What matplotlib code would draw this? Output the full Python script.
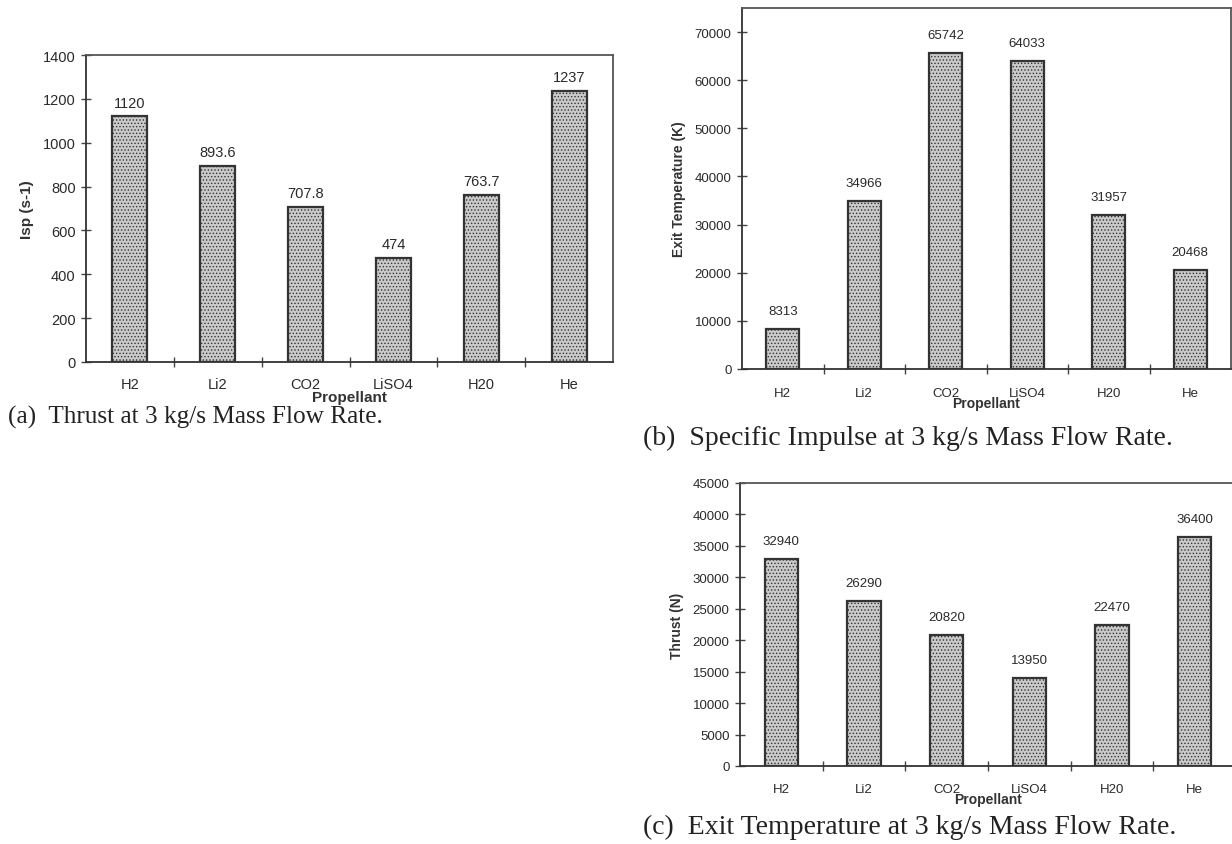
import matplotlib
matplotlib.use('Agg')
import matplotlib.pyplot as plt

plt.rcParams['font.family'] = ['Liberation Sans', 'DejaVu Sans']
plt.rcParams['hatch.color'] = '#8a8a8a'
plt.rcParams['hatch.linewidth'] = 0.6

propellants = ['H2', 'Li2', 'CO2', 'LiSO4', 'H20', 'He']
isp = [1120, 893.6, 707.8, 474, 763.7, 1237]
isp_labels = ['1120', '893.6', '707.8', '474', '763.7', '1237']
exit_temp = [8313, 34966, 65742, 64033, 31957, 20468]
thrust = [32940, 26290, 20820, 13950, 22470, 36400]

W, H = 1232, 845
fig = plt.figure(figsize=(W / 100, H / 100), dpi=100)


def px_axes(left, top, right, bottom):
    return fig.add_axes([left / W, 1 - bottom / H, (right - left) / W, (bottom - top) / H])


def bar_panel(ax, values, labels, ymax, yticks, ylabel, tick_fs, lab_fs, val_fs, off, xpad, xlpad):
    x = range(len(values))
    ax.bar(x, values, width=0.4, color='#cacaca', edgecolor='#333333',
           linewidth=1.6, hatch='.....', zorder=2)
    for i, (v, t) in enumerate(zip(values, labels)):
        ax.annotate(t, (i, v), xytext=(0, off), textcoords='offset points',
                    ha='center', va='center', fontsize=val_fs, color='#2a2a2a')
    ax.set_xlim(-0.5, len(values) - 0.5)
    ax.set_ylim(0, ymax)
    ax.set_yticks(yticks)
    ax.set_xticks([i + 0.5 for i in range(len(values) - 1)])
    ax.set_xticklabels([])
    ax.set_xticks(list(x), minor=True)
    ax.set_xticklabels(propellants, minor=True, fontsize=tick_fs, color='#2a2a2a')
    ax.tick_params(axis='x', which='major', direction='inout', length=7, width=1, color='#444444')
    ax.tick_params(axis='x', which='minor', length=0, pad=xpad)
    ax.tick_params(axis='y', direction='inout', length=7, width=1, color='#444444',
                   labelsize=tick_fs, labelcolor='#2a2a2a', pad=4)
    for s in ax.spines.values():
        s.set_color('#555555')
        s.set_linewidth(1.3)
    ax.spines['left'].set_color('#333333')
    ax.spines['bottom'].set_color('#333333')
    ax.set_ylabel(ylabel, fontsize=lab_fs, fontweight='bold', color='#333333', labelpad=6)
    ax.set_xlabel('Propellant', fontsize=lab_fs, fontweight='bold', color='#333333', labelpad=xlpad)


ax_a = px_axes(86, 56, 613, 363)
bar_panel(ax_a, isp, isp_labels, 1400, range(0, 1401, 200), 'Isp (s-1)', 10.5, 11, 10.5, 10, 11, -1)

ax_b = px_axes(742, 9, 1231, 370)
bar_panel(ax_b, exit_temp, [str(v) for v in exit_temp], 75000, range(0, 70001, 10000),
          'Exit Temperature (K)', 9.5, 10, 9.5, 13, 13, -2)

ax_c = px_axes(740, 484, 1236, 767)
bar_panel(ax_c, thrust, [str(v) for v in thrust], 45000, range(0, 45001, 5000),
          'Thrust (N)', 9.5, 10, 9.5, 13, 12, -2)

serif = ['Liberation Serif', 'DejaVu Serif']
fig.text(8 / W, 1 - 417 / H, '(a)  Thrust at 3 kg/s Mass Flow Rate.', fontsize=18.2,
         family=serif, color='#222222', ha='left', va='center')
fig.text(643 / W, 1 - 438 / H, '(b)  Specific Impulse at 3 kg/s Mass Flow Rate.', fontsize=20,
         family=serif, color='#222222', ha='left', va='center')
fig.text(643 / W, 1 - 827 / H, '(c)  Exit Temperature at 3 kg/s Mass Flow Rate.', fontsize=20,
         family=serif, color='#222222', ha='left', va='center')

fig.savefig('out.png', dpi=100)
